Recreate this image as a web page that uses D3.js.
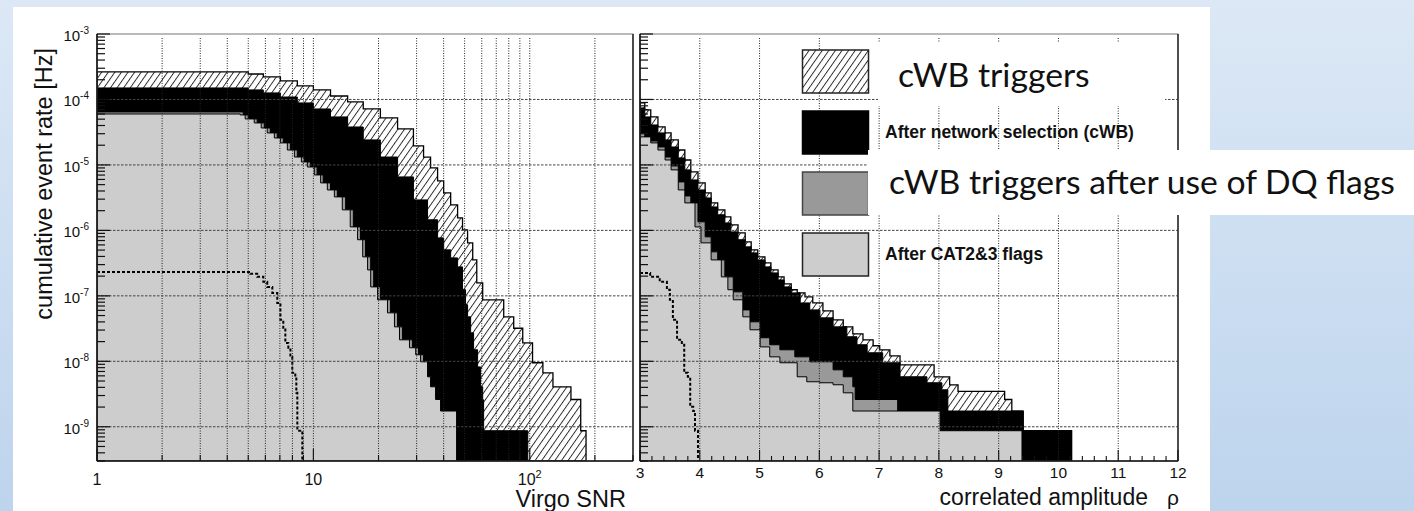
<!DOCTYPE html>
<html>
<head>
<meta charset="utf-8">
<title>cWB cumulative event rate</title>
<script src="https://cdn.jsdelivr.net/npm/d3@7"></script>
<style>
  html, body { margin: 0; padding: 0; }
  svg { display: block; }
</style>
</head>
<body>
<svg id="chart" width="1414" height="511"></svg>
<script>
// ---------- cumulative event rate [Hz] above threshold (step histograms) ----------

// Virgo SNR panel
const snrAllX    = [1, 5.00, 5.87, 7.04, 8.43, 10.0, 12.0, 14.4, 17.0, 20.4, 24.5, 29.0, 32.3, 34.8, 37.5, 40.0, 43.1, 46.4, 48.9, 51.6, 54.5, 56.9, 60.6, 75.8, 84.3, 92.8, 103, 115, 128, 155, 172, 182];
const snrAllRate = [2.63e-4, 2.45e-4, 2.21e-4, 1.92e-4, 1.61e-4, 1.40e-4, 1.13e-4, 9.16e-5, 7.16e-5, 5.22e-5, 3.55e-5, 1.95e-5, 1.32e-5, 9.0e-6, 5.70e-6, 3.74e-6, 2.45e-6, 1.55e-6, 1.02e-6, 6.45e-7, 3.54e-7, 1.58e-7, 8.7e-8, 4.78e-8, 3.2e-8, 1.91e-8, 9.5e-9, 6.67e-9, 4.08e-9, 2.61e-9, 8.7e-10, 8.7e-10];

const snrNetX    = [1, 5.00, 5.87, 7.04, 8.43, 10.0, 12.0, 14.4, 17.0, 20.4, 24.5, 29.0, 33.7, 37.5, 40.0, 43.1, 46.4, 48.9, 50.5, 51.6, 53.3, 55.0, 57.4, 59.3, 60.6, 61.2, 97.9];
const snrNetRate = [1.50e-4, 1.40e-4, 1.26e-4, 1.09e-4, 8.85e-5, 7.16e-5, 5.41e-5, 3.80e-5, 2.41e-5, 1.32e-5, 6.56e-6, 2.92e-6, 1.45e-6, 7.68e-7, 5.04e-7, 3.80e-7, 2.77e-7, 1.24e-7, 7.30e-8, 4.78e-8, 2.72e-8, 1.50e-8, 8.2e-9, 4.08e-9, 2.58e-9, 8.7e-10, 8.7e-10];

const snrDqX     = [1, 4.74, 5.00, 5.50, 5.93, 6.32, 6.81, 7.26, 7.83, 8.43, 9.08, 9.69, 10.4, 11.1, 12.0, 12.9, 14.1, 15.3, 16.5, 17.4, 18.4, 19.0, 20.4, 22.7, 24.5, 25.8, 28.7, 30.6, 32.3, 33.7, 34.8, 36.7, 38.7, 45.9];
const snrDqRate  = [6.45e-5, 5.8e-5, 5.04e-5, 4.38e-5, 3.67e-5, 3.08e-5, 2.58e-5, 2.17e-5, 1.69e-5, 1.32e-5, 1.11e-5, 9.3e-6, 7.03e-6, 5.31e-6, 4.15e-6, 3.25e-6, 2.06e-6, 1.13e-6, 7.2e-7, 3.94e-7, 2.49e-7, 1.37e-7, 8.7e-8, 5.5e-8, 3.36e-8, 2.13e-8, 1.61e-8, 1.26e-8, 9.83e-9, 5.8e-9, 4.08e-9, 2.61e-9, 1.74e-9, 1.74e-9];

const snrCatX    = [1, 4.59, 4.84, 5.33, 5.74, 6.12, 6.60, 7.04, 7.58, 8.17, 8.80, 9.38, 10.1, 10.8, 11.6, 12.5, 13.6, 14.8, 16.0, 16.9, 17.8, 18.4, 19.8, 22.0, 23.7, 25.0, 27.8, 29.7, 31.3, 33.7, 34.8, 36.7, 38.7, 45.9];
const snrCatRate = [6.0e-5, 5.8e-5, 5.04e-5, 4.38e-5, 3.67e-5, 3.08e-5, 2.58e-5, 2.17e-5, 1.69e-5, 1.32e-5, 1.11e-5, 9.3e-6, 7.03e-6, 5.31e-6, 4.15e-6, 3.25e-6, 2.06e-6, 1.13e-6, 7.2e-7, 3.94e-7, 2.49e-7, 1.37e-7, 8.7e-8, 5.5e-8, 3.36e-8, 2.13e-8, 1.61e-8, 1.26e-8, 9.83e-9, 5.8e-9, 4.08e-9, 2.61e-9, 1.74e-9, 1.74e-9];

const snrSimX    = [1, 5.11, 5.50, 5.87, 6.12, 6.46, 6.81, 7.04, 7.26, 7.42, 7.66, 7.83, 7.99, 8.25, 8.34, 8.43, 8.89];
const snrSimRate = [2.32e-7, 2.17e-7, 1.95e-7, 1.64e-7, 1.37e-7, 1.11e-7, 7.8e-8, 4.3e-8, 3.25e-8, 1.91e-8, 1.61e-8, 1.17e-8, 6.67e-9, 5.8e-9, 3.3e-9, 8.7e-10, 8.7e-10];

// correlated amplitude panel
const rhoAllX    = [3.00, 3.08, 3.18, 3.30, 3.42, 3.52, 3.64, 3.75, 3.85, 3.97, 4.09, 4.19, 4.30, 4.42, 4.52, 4.64, 4.76, 4.86, 4.97, 5.09, 5.19, 5.31, 5.41, 5.53, 5.63, 5.76, 5.89, 6.06, 6.23, 6.40, 6.56, 6.73, 6.90, 7.01, 7.18, 7.35, 7.92, 8.18, 8.32, 9.10, 9.22, 9.41, 10.22];
const rhoAllRate = [8.84e-5, 6.92e-5, 5.41e-5, 3.80e-5, 3.08e-5, 2.41e-5, 1.69e-5, 1.19e-5, 7.82e-6, 5.31e-6, 3.74e-6, 2.63e-6, 2.06e-6, 1.61e-6, 1.21e-6, 9.16e-7, 6.67e-7, 5.04e-7, 3.94e-7, 3.19e-7, 2.49e-7, 1.95e-7, 1.52e-7, 1.24e-7, 1.11e-7, 9.65e-8, 7.8e-8, 5.9e-8, 4.3e-8, 3.36e-8, 2.63e-8, 2.13e-8, 1.73e-8, 1.50e-8, 1.21e-8, 8.85e-9, 5.8e-9, 4.38e-9, 3.48e-9, 2.61e-9, 1.74e-9, 8.7e-10, 8.7e-10];

const rhoNetX    = [3.00, 3.08, 3.18, 3.30, 3.42, 3.52, 3.64, 3.75, 3.85, 3.97, 4.09, 4.19, 4.30, 4.42, 4.52, 4.64, 4.76, 4.86, 4.97, 5.09, 5.19, 5.31, 5.41, 5.53, 5.68, 5.84, 6.01, 6.23, 6.46, 6.63, 6.80, 7.06, 7.35, 7.80, 8.05, 8.15, 9.41, 10.22];
const rhoNetRate = [7.42e-5, 5.41e-5, 4.08e-5, 3.08e-5, 2.41e-5, 1.88e-5, 1.28e-5, 8.4e-6, 5.90e-6, 4.15e-6, 3.13e-6, 2.28e-6, 1.73e-6, 1.30e-6, 9.48e-7, 7.2e-7, 5.6e-7, 4.53e-7, 3.54e-7, 2.77e-7, 2.24e-7, 1.75e-7, 1.37e-7, 1.11e-7, 7.8e-8, 6.1e-8, 4.61e-8, 3.36e-8, 2.37e-8, 1.79e-8, 1.35e-8, 9.5e-9, 5.8e-9, 4.70e-9, 3.67e-9, 1.74e-9, 8.7e-10, 8.7e-10];

const rhoDqX     = [3.00, 3.08, 3.18, 3.30, 3.42, 3.52, 3.64, 3.75, 3.85, 3.97, 4.09, 4.19, 4.30, 4.42, 4.56, 4.72, 4.84, 5.01, 5.17, 5.34, 5.59, 5.84, 6.23, 6.40, 6.56, 6.60, 7.31, 8.02, 9.39];
const rhoDqRate  = [3.08e-5, 2.68e-5, 2.32e-5, 1.88e-5, 1.32e-5, 9.65e-6, 5.50e-6, 3.36e-6, 2.63e-6, 1.35e-6, 7.96e-7, 4.70e-7, 3.54e-7, 1.95e-7, 1.15e-7, 6.1e-8, 4.01e-8, 2.29e-8, 1.79e-8, 1.50e-8, 1.17e-8, 9.83e-9, 7.41e-9, 5.8e-9, 4.08e-9, 2.61e-9, 1.74e-9, 8.7e-10, 8.7e-10];

const rhoCatX    = [3.00, 3.18, 3.30, 3.42, 3.52, 3.64, 3.75, 3.92, 4.02, 4.19, 4.36, 4.47, 4.56, 4.72, 4.84, 5.01, 5.17, 5.34, 5.63, 5.79, 6.01, 6.23, 6.40, 6.56, 8.02, 9.39];
const rhoCatRate = [2.68e-5, 2.17e-5, 1.69e-5, 1.19e-5, 8.4e-6, 4.15e-6, 2.63e-6, 1.13e-6, 6.45e-7, 3.54e-7, 1.95e-7, 1.24e-7, 8.7e-8, 4.78e-8, 3.03e-8, 1.66e-8, 1.17e-8, 9.5e-9, 5.8e-9, 4.87e-9, 4.70e-9, 4.38e-9, 3.30e-9, 1.74e-9, 8.7e-10, 8.7e-10];

const rhoSimX    = [3.00, 3.17, 3.33, 3.45, 3.50, 3.55, 3.62, 3.70, 3.74, 3.80, 3.84, 3.89, 3.92, 3.97];
const rhoSimRate = [2.24e-7, 1.95e-7, 1.64e-7, 1.24e-7, 8.7e-8, 4.30e-8, 2.13e-8, 1.79e-8, 6.67e-9, 5.8e-9, 2.02e-9, 1.74e-9, 8.7e-10, 8.7e-10];

// axes, ticks and text
const rateDecades   = [-3, -4, -5, -6, -7, -8, -9];
const snrLabelTicks = [1, 10, 100];
const rhoLabelTicks = [3, 4, 5, 6, 7, 8, 9, 10, 11, 12];
const yTitle   = "cumulative event rate [Hz]";
const snrTitle = "Virgo SNR";
const rhoTitle = "correlated amplitude";
const rhoSymbol = "ρ";
const legendNotes  = ["After network selection (cWB)", "After CAT2&3 flags"];
const calloutNotes = ["cWB triggers", "cWB triggers after use of DQ flags"];

// ---------- drawing ----------
const svg = d3.select("#chart");
const defs = svg.append("defs");
const axisFont = "'Liberation Sans', Arial, Helvetica, sans-serif";

const sky = defs.append("linearGradient").attr("id", "sky")
  .attr("x1", 0).attr("y1", 0).attr("x2", 0).attr("y2", 1);
sky.append("stop").attr("offset", 0).attr("stop-color", "#dce8f5");
sky.append("stop").attr("offset", 1).attr("stop-color", "#bdd4ed");

const hatch = defs.append("pattern").attr("id", "hatch")
  .attr("patternUnits", "userSpaceOnUse").attr("width", 5.4).attr("height", 10)
  .attr("patternTransform", "rotate(35)");
hatch.append("rect").attr("width", 5.4).attr("height", 10).attr("fill", "#fff");
hatch.append("line").attr("x1", 0.5).attr("y1", 0).attr("x2", 0.5).attr("y2", 10)
  .attr("stroke", "#111").attr("stroke-width", 0.9);

svg.append("rect").attr("width", 1414).attr("height", 511).attr("fill", "url(#sky)");
svg.append("rect").attr("x", 13).attr("y", 7).attr("width", 1197).attr("height", 504).attr("fill", "#fff");

const frameTop = 34, frameBottom = 461;
const y = d3.scaleLog().domain([3e-10, 1e-3]).range([frameBottom, frameTop]);
const xSnr = d3.scaleLog().domain([1, 300]).range([97, 633]);
const xRho = d3.scaleLinear().domain([3, 12]).range([640, 1178]);

const zip = (xs, rs) => xs.map((v, i) => [v, rs[i]]);

function drawPanel(cfg) {
  const { key, x, layers, sim, gridX, ticksX } = cfg;
  const [left, right] = x.range();
  defs.append("clipPath").attr("id", "clip-" + key)
    .append("rect").attr("x", left).attr("y", frameTop).attr("width", right - left).attr("height", frameBottom - frameTop);
  const body = svg.append("g").attr("clip-path", `url(#clip-${key})`);

  const area = d3.area().curve(d3.curveStepAfter)
    .x(d => x(d[0])).y0(frameBottom).y1(d => y(d[1]));
  layers.forEach(l => {
    body.append("path").attr("d", area(l.points))
      .attr("fill", l.fill).attr("stroke", "#000").attr("stroke-width", l.width);
  });

  const line = d3.line().curve(d3.curveStepAfter).x(d => x(d[0])).y(d => y(d[1]));
  body.append("path").attr("d", line(sim) + "V" + frameBottom)
    .attr("fill", "none").attr("stroke", "#000").attr("stroke-width", 2)
    .attr("stroke-dasharray", "3,2");

  // dotted grid
  gridX.forEach(v => {
    body.append("line").attr("x1", x(v)).attr("x2", x(v)).attr("y1", frameTop + 4).attr("y2", frameBottom)
      .attr("stroke", "#222").attr("stroke-width", 1).attr("stroke-dasharray", "1,1.5");
  });
  rateDecades.slice(1).forEach(e => {
    const yy = y(Math.pow(10, e));
    body.append("line").attr("x1", left).attr("x2", right).attr("y1", yy).attr("y2", yy)
      .attr("stroke", "#444").attr("stroke-width", 1).attr("stroke-dasharray", "2.5,1.5");
  });

  // frame
  const frame = svg.append("g");
  frame.append("rect").attr("x", left).attr("y", frameTop).attr("width", right - left).attr("height", frameBottom - frameTop)
    .attr("fill", "none").attr("stroke", "#777").attr("stroke-width", 1);
  frame.append("line").attr("x1", right).attr("x2", right).attr("y1", frameTop).attr("y2", frameBottom)
    .attr("stroke", "#333").attr("stroke-width", 1.6);
  frame.append("line").attr("x1", left).attr("x2", left).attr("y1", frameTop).attr("y2", frameBottom)
    .attr("stroke", "#111").attr("stroke-width", 1.6);
  frame.append("line").attr("x1", left).attr("x2", right).attr("y1", frameBottom).attr("y2", frameBottom)
    .attr("stroke", "#111").attr("stroke-width", 1.6);

  // rate ticks on the left axis
  for (let e = -10; e <= -3; e++) {
    for (let m = 1; m <= 9; m++) {
      const v = m * Math.pow(10, e);
      if (v < 3e-10 || v > 1.0001e-3) continue;
      const yy = y(v);
      frame.append("line").attr("x1", left).attr("x2", left + (m === 1 ? 13 : 8))
        .attr("y1", yy).attr("y2", yy).attr("stroke", "#111").attr("stroke-width", 1.2);
    }
  }
  // ticks on the bottom axis
  ticksX.forEach(t => {
    frame.append("line").attr("x1", x(t.v)).attr("x2", x(t.v))
      .attr("y1", frameBottom).attr("y2", frameBottom - t.len).attr("stroke", "#111").attr("stroke-width", 1.1);
  });
}

// Virgo SNR panel
const snrTicks = [];
for (let e = 0; e <= 2; e++) for (let m = 1; m <= 9; m++) {
  const v = m * Math.pow(10, e);
  if (v <= 300) snrTicks.push({ v, len: m === 1 ? 12 : 6 });
}
drawPanel({
  key: "snr", x: xSnr,
  layers: [
    { points: zip(snrAllX, snrAllRate), fill: "url(#hatch)", width: 1.3 },
    { points: zip(snrNetX, snrNetRate), fill: "#000", width: 1 },
    { points: zip(snrDqX, snrDqRate), fill: "#999", width: 1 },
    { points: zip(snrCatX, snrCatRate), fill: "#cdcdcd", width: 1 }
  ],
  sim: zip(snrSimX, snrSimRate),
  gridX: snrTicks.map(t => t.v).filter(v => v > 1),
  ticksX: snrTicks
});

// correlated amplitude panel
const rhoTicks = d3.range(0, 46).map(i => {
  const v = 3 + i * 0.2;
  return { v, len: i % 5 === 0 ? 11 : 5 };
});
drawPanel({
  key: "rho", x: xRho,
  layers: [
    { points: zip(rhoAllX, rhoAllRate), fill: "url(#hatch)", width: 1.3 },
    { points: zip(rhoNetX, rhoNetRate), fill: "#000", width: 1 },
    { points: zip(rhoDqX, rhoDqRate), fill: "#999", width: 1 },
    { points: zip(rhoCatX, rhoCatRate), fill: "#cdcdcd", width: 1 }
  ],
  sim: zip(rhoSimX, rhoSimRate),
  gridX: d3.range(4, 12),
  ticksX: rhoTicks
});

// rate labels
rateDecades.forEach(e => {
  const t = svg.append("text").attr("x", 89).attr("y", y(Math.pow(10, e)) + 7)
    .attr("text-anchor", "end").attr("font-family", axisFont).attr("font-size", 15).attr("fill", "#111");
  t.append("tspan").text("10");
  t.append("tspan").attr("font-size", 10).attr("dy", -7).text(String(e));
});

// SNR labels
snrLabelTicks.forEach(v => {
  const t = svg.append("text").attr("x", xSnr(v)).attr("y", 485)
    .attr("text-anchor", "middle").attr("font-family", axisFont).attr("font-size", 16).attr("fill", "#111");
  if (v < 100) t.text(String(v));
  else {
    t.append("tspan").text("10");
    t.append("tspan").attr("font-size", 11).attr("dy", -7).text(String(Math.round(Math.log10(v))));
  }
});

// rho labels
rhoLabelTicks.forEach(v => {
  svg.append("text").attr("x", xRho(v)).attr("y", 478)
    .attr("text-anchor", "middle").attr("font-family", axisFont).attr("font-size", 15.5).attr("fill", "#111")
    .text(String(v));
});

// axis titles
svg.append("text").attr("transform", "translate(52,48) rotate(-90)")
  .attr("text-anchor", "end").attr("font-family", axisFont).attr("font-size", 23.5).attr("fill", "#111")
  .text(yTitle);
svg.append("text").attr("x", 626).attr("y", 507)
  .attr("text-anchor", "end").attr("font-family", axisFont).attr("font-size", 23.5).attr("fill", "#111")
  .text(snrTitle);
svg.append("text").attr("x", 1148).attr("y", 505)
  .attr("text-anchor", "end").attr("font-family", axisFont).attr("font-size", 23).attr("fill", "#111")
  .text(rhoTitle);
svg.append("text").attr("x", 1167).attr("y", 505)
  .attr("font-family", axisFont).attr("font-size", 21).attr("fill", "#111")
  .text(rhoSymbol);

// legend
const legend = svg.append("g");
const swatches = [
  { y: 50, fill: "url(#hatch)", stroke: "#222" },
  { y: 111, fill: "#000", stroke: "#000" },
  { y: 172, fill: "#999", stroke: "#444" },
  { y: 233, fill: "#cdcdcd", stroke: "#222" }
];
swatches.forEach(s => {
  legend.append("rect").attr("x", 802.5).attr("y", s.y).attr("width", 66).attr("height", 43)
    .attr("fill", s.fill).attr("stroke", s.stroke).attr("stroke-width", 1.5);
});
[137.5, 259.5].forEach((yy, i) => {
  legend.append("text").attr("x", 885).attr("y", yy)
    .attr("font-family", axisFont).attr("font-weight", "bold").attr("font-size", 17.5).attr("fill", "#111")
    .text(legendNotes[i]);
});

// callouts
const calloutFont = "Lato, 'Open Sans', sans-serif";
const probe = svg.append("text").attr("font-family", calloutFont).attr("font-size", 30).text(calloutNotes[1]);
const calloutSize = 30 * 506 / probe.node().getComputedTextLength();
probe.remove();

svg.append("rect").attr("x", 878).attr("y", 43).attr("width", 287).attr("height", 63).attr("fill", "#fff");
svg.append("rect").attr("x", 868).attr("y", 150).attr("width", 546).attr("height", 65).attr("fill", "#fff");
svg.append("text").attr("x", 898).attr("y", 87)
  .attr("font-family", calloutFont).attr("font-size", calloutSize).attr("fill", "#111")
  .text(calloutNotes[0]);
svg.append("text").attr("x", 889).attr("y", 194)
  .attr("font-family", calloutFont).attr("font-size", calloutSize).attr("fill", "#111")
  .text(calloutNotes[1]);
</script>
</body>
</html>
